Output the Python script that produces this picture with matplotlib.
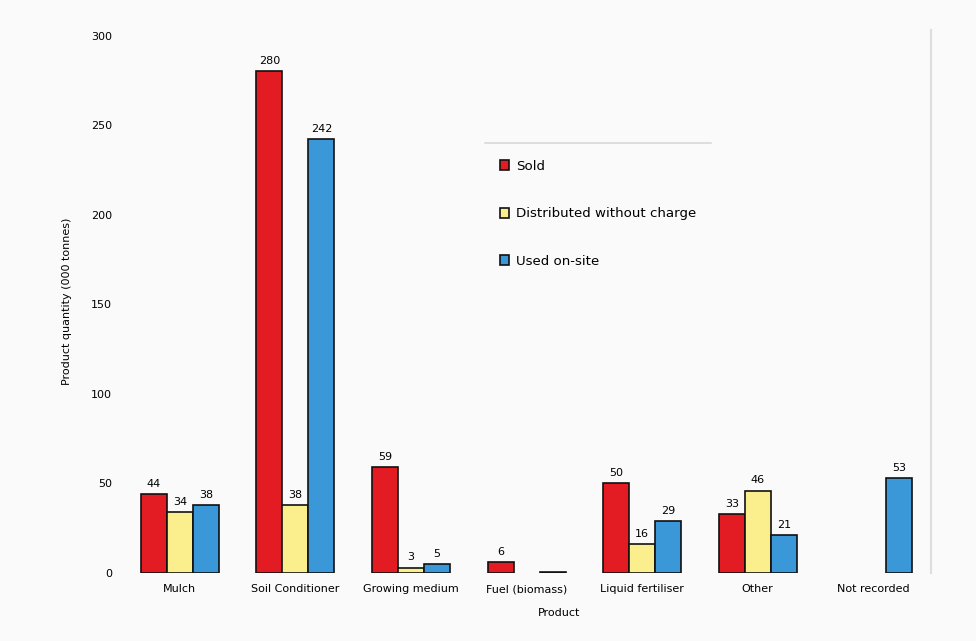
import matplotlib
matplotlib.use("Agg")
import matplotlib.pyplot as plt
from matplotlib.lines import Line2D
import numpy as np

products = ["Mulch", "Soil Conditioner", "Growing medium", "Fuel (biomass)",
            "Liquid fertiliser", "Other", "Not recorded"]
sold = [44, 280, 59, 6, 50, 33, 0]
free = [34, 38, 3, 0, 16, 46, 0]
onsite = [38, 242, 5, 0.5, 29, 21, 53]
series_names = ["Sold", "Distributed without charge", "Used on-site"]
colors = ["#e31b23", "#fbee8c", "#3a98d8"]

fig = plt.figure(figsize=(9.76, 6.41), dpi=100, facecolor="#fafafa")
ax = fig.add_axes([0.125, 0.106, 0.829, 0.847])
ax.set_facecolor("#fafafa")

x = np.arange(len(products))
w = 0.225
for i, (vals, name, c) in enumerate(zip([sold, free, onsite], series_names, colors)):
    pos = x + (i - 1) * w
    vals = np.array(vals, dtype=float)
    mask = vals > 0
    bars = ax.bar(pos[mask], vals[mask], width=w, color=c, edgecolor="#111111",
                  linewidth=1.2, label=name)
    for b, v in zip(bars, vals[mask]):
        if v >= 1:
            ax.text(b.get_x() + b.get_width() / 2, v + 3, f"{v:g}",
                    ha="center", va="bottom", fontsize=8)

ax.set_xlim(-0.5, len(products) - 0.5)
ax.set_ylim(0, 303)
ax.set_yticks(np.arange(0, 301, 50))
ax.set_xticks(x)
ax.set_xticklabels(products, fontsize=8)
ax.tick_params(axis="both", length=0, labelsize=8)
ax.tick_params(axis="y", pad=7)
ax.tick_params(axis="x", pad=8)

for s in ["left", "top", "bottom"]:
    ax.spines[s].set_visible(False)
ax.spines["right"].set_color("#dddddd")
ax.spines["right"].set_linewidth(1.5)

ax.set_xlabel("Product", fontsize=8, labelpad=4)
ax.xaxis.set_label_coords(0.54, -0.065)
ax.set_ylabel("Product quantity (000 tonnes)", fontsize=8, labelpad=14)

leg = ax.legend(loc="upper left", bbox_to_anchor=(0.512, 0.751),
                bbox_transform=fig.transFigure, frameon=False, fontsize=9.6,
                labelspacing=2.6, handlelength=0.7, handleheight=0.8,
                handletextpad=0.5, borderpad=0, borderaxespad=0)

fig.add_artist(Line2D([0.497, 0.728], [0.777, 0.777], color="#d8d8d8",
                      linewidth=1.2, transform=fig.transFigure))

fig.savefig("out.png", dpi=100, facecolor=fig.get_facecolor())
